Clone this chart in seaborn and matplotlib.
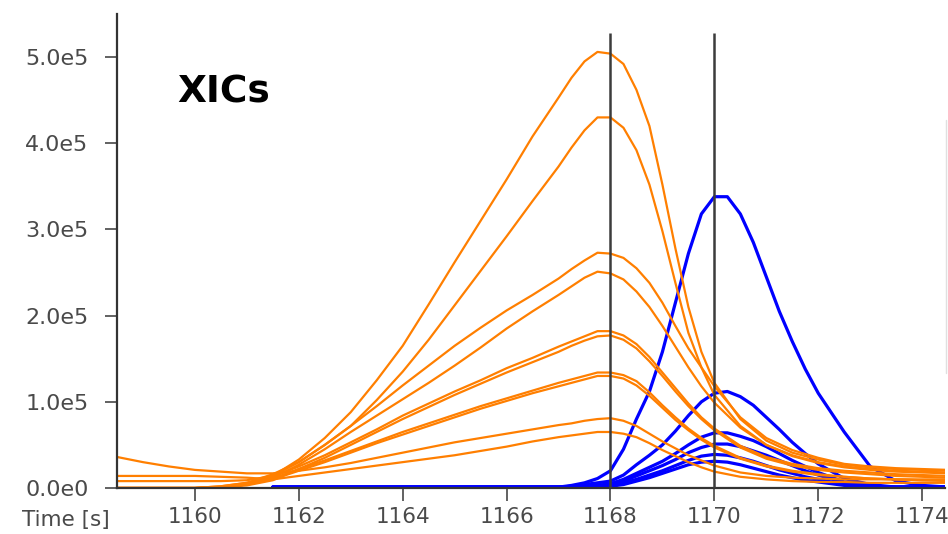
"""
XIC traces (orange / blue) with two retention-time markers.
Output: out.png
"""
import numpy as np
import pandas as pd
import matplotlib
matplotlib.use("Agg")
import matplotlib.pyplot as plt
from matplotlib.lines import Line2D
from matplotlib.ticker import FuncFormatter
import seaborn as sns

FIG_PATH = "out.png"

# retention time grids [s]
T_ORANGE = [1158.5, 1159, 1159.5, 1160, 1160.5, 1161, 1161.5, 1162, 1162.5, 1163,
            1163.5, 1164, 1164.5, 1165, 1165.5, 1166, 1166.5, 1167, 1167.25, 1167.5,
            1167.75, 1168, 1168.25, 1168.5, 1168.75, 1169, 1169.25, 1169.5, 1169.75,
            1170, 1170.5, 1171, 1171.5, 1172, 1172.5, 1173, 1173.5, 1174, 1174.5]
T_BLUE = [1161.5, 1167, 1167.25, 1167.5, 1167.75, 1168, 1168.25, 1168.5, 1168.75,
          1169, 1169.25, 1169.5, 1169.75, 1170, 1170.25, 1170.5, 1170.75, 1171,
          1171.25, 1171.5, 1171.75, 1172, 1172.5, 1173, 1173.5, 1174, 1174.5]

# intensities in thousands of counts
ORANGE = {
    "o1": [0, 0, 0, 0, 1, 4, 14, 33, 58, 88, 125, 165, 213, 262, 310, 358, 408, 453,
           476, 495, 506, 504, 492, 462, 420, 352, 278, 210, 158, 122,
           80, 55, 41, 33, 27, 24, 22, 21, 20],
    "o2": [8, 8, 8, 8, 8, 9, 14, 30, 50, 72, 102, 135, 172, 212, 252, 292, 333, 373,
           395, 415, 430, 430, 418, 392, 352, 298, 238, 180, 140, 108,
           72, 50, 37, 29, 24, 21, 19, 18, 17],
    "o3": [0, 0, 0, 0, 2, 6, 16, 30, 50, 72, 95, 119, 142, 165, 186, 206, 224, 243,
           254, 264, 273, 272, 267, 255, 238, 215, 188, 162, 140, 118,
           82, 58, 44, 35, 28, 25, 23, 22, 21],
    "o4": [0, 0, 0, 0, 1, 4, 12, 27, 45, 65, 84, 103, 122, 142, 163, 185, 205, 224,
           234, 244, 251, 249, 242, 228, 210, 188, 164, 140, 118, 99,
           70, 50, 38, 30, 25, 22, 20, 19, 18],
    "o5a": [0, 0, 0, 0, 2, 6, 13, 25, 38, 53, 68, 84, 98, 112, 125, 139, 151, 164,
            170, 176, 182, 182, 177, 167, 152, 134, 116, 98, 82, 69,
            49, 36, 28, 23, 20, 18, 16, 15, 14],
    "o5b": [0, 0, 0, 0, 1, 4, 11, 22, 35, 50, 65, 80, 94, 108, 121, 134, 146, 158,
            165, 171, 176, 177, 172, 162, 147, 130, 112, 95, 80, 67,
            47, 34, 26, 21, 18, 16, 14, 13, 12],
    "o6a": [0, 0, 0, 0, 1, 3, 9, 22, 32, 43, 54, 65, 75, 85, 95, 104, 113, 122,
            126, 130, 134, 134, 131, 124, 111, 96, 82, 69, 58, 49,
            35, 26, 20, 16, 13, 11, 10, 9, 9],
    "o6b": [0, 0, 0, 0, 1, 4, 10, 20, 30, 41, 52, 62, 72, 82, 92, 101, 110, 118,
            122, 126, 130, 130, 127, 119, 107, 93, 79, 67, 56, 47,
            34, 25, 19, 15, 13, 11, 10, 9, 8],
    "o7": [36, 30, 25, 21, 19, 17, 17, 20, 24, 29, 35, 41, 47, 53, 58, 63, 68, 73,
           75, 78, 80, 81, 78, 72, 63, 54, 46, 38, 32, 26,
           18, 14, 12, 11, 10, 10, 10, 10, 10],
    "o8": [14, 14, 14, 14, 13, 12, 10, 14, 18, 22, 26, 30, 34, 38, 43, 48, 54, 59,
           61, 63, 65, 65, 63, 59, 52, 44, 37, 30, 24, 19,
           13, 10, 8, 7, 7, 6, 6, 6, 6],
}
BLUE = {
    "b1": [1, 1, 3, 6, 11, 20, 45, 80, 112, 158, 215, 272, 318, 338, 338, 318, 285,
           245, 205, 170, 138, 110, 65, 25, 8, 3, 1],
    "b2": [1, 1, 2, 4, 6, 8, 15, 27, 38, 50, 66, 84, 100, 110, 112, 106, 96,
           82, 68, 53, 40, 28, 11, 4, 1, 1, 1],
    "b3": [1, 1, 1, 2, 3, 5, 10, 17, 24, 31, 40, 50, 59, 64, 64, 60, 55,
           48, 40, 32, 25, 18, 7, 2, 1, 1, 1],
    "b4": [1, 1, 1, 2, 3, 4, 8, 14, 20, 26, 33, 41, 47, 51, 51, 48, 43,
           38, 32, 26, 20, 15, 6, 2, 1, 1, 1],
    "b5": [1, 1, 1, 1, 2, 3, 6, 10, 15, 20, 26, 32, 37, 39, 38, 35, 31,
           26, 21, 17, 13, 10, 4, 1, 1, 1, 1],
    "b6": [1, 1, 1, 1, 2, 2, 4, 8, 12, 17, 22, 27, 30, 31, 30, 27, 23,
           19, 15, 12, 9, 7, 3, 1, 1, 1, 1],
}
MARKERS = [1168, 1170]
X_TICKS = [1160, 1162, 1164, 1166, 1168, 1170, 1172, 1174]
Y_TICKS = [0, 1e5, 2e5, 3e5, 4e5, 5e5]


def long_frame(times, traces):
    rows = []
    for name, vals in traces.items():
        rows.append(pd.DataFrame({"time": times, "intensity": np.array(vals) * 1e3,
                                  "trace": name}))
    return pd.concat(rows, ignore_index=True)


def sci_label(v, pos):
    if v == 0:
        return "0.0e0"
    exp = int(np.floor(np.log10(abs(v))))
    return f"{v / 10 ** exp:.1f}e{exp}"


def main():
    sns.set_style("ticks")
    plt.rcParams["font.family"] = ["DejaVu Sans"]

    df_o = long_frame(T_ORANGE, ORANGE)
    df_b = long_frame(T_BLUE, BLUE)

    fig = plt.figure(figsize=(9.48, 5.34), dpi=100)
    ax = fig.add_axes([117 / 948, 1 - 488 / 534, (945 - 117) / 948, (488 - 14) / 534])

    sns.lineplot(data=df_b, x="time", y="intensity", units="trace", estimator=None,
                 color="#0000ff", lw=2.3, ax=ax, legend=False)
    sns.lineplot(data=df_o, x="time", y="intensity", units="trace", estimator=None,
                 color="#ff7f00", lw=1.6, ax=ax, legend=False)

    ax.vlines(MARKERS, 0, 5.28e5, color="#3c3c3c", lw=1.8, zorder=5)

    ax.set_xlim(1158.5, 1174.44)
    ax.set_ylim(0, 5.5e5)
    ax.set_xticks(X_TICKS)
    ax.set_yticks(Y_TICKS)
    ax.yaxis.set_major_formatter(FuncFormatter(sci_label))
    ax.set_xlabel("")
    ax.set_ylabel("")

    sns.despine(ax=ax)
    for side in ("left", "bottom"):
        ax.spines[side].set_color("#333333")
        ax.spines[side].set_linewidth(1.6)
    ax.tick_params(axis="y", length=8.5, width=1.3, color="#555555", pad=12,
                   labelsize=16, labelcolor="#4a4a4a")
    ax.tick_params(axis="x", length=9, width=1.3, color="#555555", pad=5,
                   labelsize=15.5, labelcolor="#4a4a4a")

    ax.text(0.0725, 0.8126, "XICs", transform=ax.transAxes, fontsize=27,
            fontweight="bold", color="black", va="baseline", ha="left")
    fig.text(22 / 948, 8 / 534, "Time [s]", fontsize=15.5, color="#4a4a4a",
             va="baseline", ha="left")

    # edge of a clipped panel on the far right
    fig.add_artist(Line2D([946 / 948, 946 / 948], [1 - 373 / 534, 1 - 120 / 534],
                          color="#e0e0e0", lw=1))

    fig.savefig(FIG_PATH, dpi=100)
    plt.close(fig)
    print(f"Saved {FIG_PATH}")


if __name__ == "__main__":
    main()
